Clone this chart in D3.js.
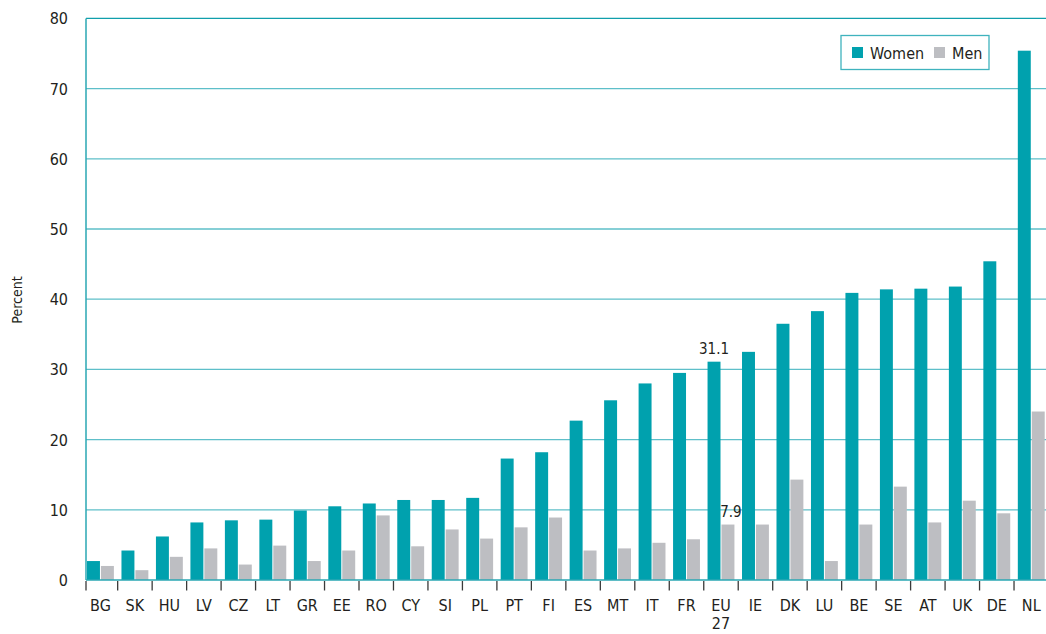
<!DOCTYPE html>
<html>
<head>
<meta charset="utf-8">
<script src="https://cdn.jsdelivr.net/npm/d3@7"></script>
<style>
  body { margin: 0; background: #fff; }
  svg { display: block; font-family: "Liberation Sans Narrow", "DejaVu Sans Condensed", "Roboto Condensed", sans-serif; }
  .tick-label { font-size: 16px; fill: #231f20; }
</style>
</head>
<body>
<svg id="chart" width="1046" height="634"></svg>
<script>
// Data
const countries = ['BG','SK','HU','LV','CZ','LT','GR','EE','RO','CY','SI','PL','PT','FI','ES','MT','IT','FR','EU 27','IE','DK','LU','BE','SE','AT','UK','DE','NL'];
const women = [2.7, 4.2, 6.2, 8.2, 8.5, 8.6, 9.9, 10.5, 10.9, 11.4, 11.4, 11.7, 17.3, 18.2, 22.7, 25.6, 28.0, 29.5, 31.1, 32.5, 36.5, 38.3, 40.9, 41.4, 41.5, 41.8, 45.4, 75.4];
const men = [2.0, 1.4, 3.3, 4.5, 2.2, 4.9, 2.7, 4.2, 9.2, 4.8, 7.2, 5.9, 7.5, 8.9, 4.2, 4.5, 5.3, 5.8, 7.9, 7.9, 14.3, 2.7, 7.9, 13.3, 8.2, 11.3, 9.5, 24.0];
const seriesNames = ['Women', 'Men'];
const yTicks = [0, 10, 20, 30, 40, 50, 60, 70, 80];
const annotations = [{ country: 'EU 27', series: 'Women', text: '31.1' }, { country: 'EU 27', series: 'Men', text: '7.9' }];

const colors = { Women: '#00a1ae', Men: '#bdbec2' };

const svg = d3.select('#chart');

// Scales
const x = d3.scaleBand()
    .domain(countries)
    .range([83.2, 1048.5])
    .paddingInner(0.22)
    .paddingOuter(0.11);

const x1 = d3.scaleBand()
    .domain(seriesNames)
    .range([0, x.bandwidth()])
    .paddingInner(0.07);

const y = d3.scaleLinear()
    .domain([0, 80])
    .range([580, 18.4]);

const step = x.step();
const bandLeft = d => x(d) - step * 0.11;

// Gridlines
svg.append('g')
    .selectAll('line')
    .data(yTicks.filter(t => t > 0))
    .enter()
    .append('line')
    .attr('x1', 86)
    .attr('x2', 1046)
    .attr('y1', d => y(d))
    .attr('y2', d => y(d))
    .attr('stroke', d => d === 80 ? '#109fac' : '#5ebfc9')
    .attr('stroke-width', 1.3);

// Y axis labels
svg.append('g')
    .selectAll('text')
    .data(yTicks)
    .enter()
    .append('text')
    .attr('class', 'tick-label')
    .attr('x', 68)
    .attr('y', d => y(d) + 6)
    .attr('text-anchor', 'end')
    .text(d => d);

// Y axis title
svg.append('text')
    .attr('transform', 'translate(22,300) rotate(-90)')
    .attr('text-anchor', 'middle')
    .attr('font-size', 14)
    .attr('fill', '#231f20')
    .text('Percent');

// Bars
const rows = countries.map((c, i) => ({ country: c, Women: women[i], Men: men[i] }));

const groups = svg.append('g')
    .selectAll('g')
    .data(rows)
    .enter()
    .append('g')
    .attr('transform', d => `translate(${x(d.country)},0)`);

groups.selectAll('rect')
    .data(d => seriesNames.map(s => ({ series: s, value: d[s] })))
    .enter()
    .append('rect')
    .attr('x', d => x1(d.series))
    .attr('width', x1.bandwidth())
    .attr('y', d => y(d.value))
    .attr('height', d => y(0) - y(d.value))
    .attr('fill', d => colors[d.series]);

// Annotations
svg.append('g')
    .selectAll('text')
    .data(annotations)
    .enter()
    .append('text')
    .attr('x', d => x(d.country) + x1(d.series) + x1.bandwidth() / 2 + (d.series === 'Men' ? 3 : 0))
    .attr('y', d => y(d.series === 'Women' ? women[countries.indexOf(d.country)] : men[countries.indexOf(d.country)]) - 8)
    .attr('text-anchor', 'middle')
    .attr('font-size', 15)
    .attr('fill', '#231f20')
    .text(d => d.text);

// Axis lines
svg.append('line')
    .attr('x1', 86).attr('x2', 86)
    .attr('y1', y(80)).attr('y2', y(0))
    .attr('stroke', '#2aa7b3')
    .attr('stroke-width', 1.5);

svg.append('line')
    .attr('x1', 86).attr('x2', 1046)
    .attr('y1', y(0)).attr('y2', y(0))
    .attr('stroke', '#2aa7b3')
    .attr('stroke-width', 1.5);

// X ticks at band boundaries
svg.append('g')
    .selectAll('line')
    .data(countries)
    .enter()
    .append('line')
    .attr('x1', d => Math.max(86, bandLeft(d)))
    .attr('x2', d => Math.max(86, bandLeft(d)))
    .attr('y1', 581)
    .attr('y2', 590.5)
    .attr('stroke', '#3a3a3a')
    .attr('stroke-width', 1.3);

// X labels
const xLabels = svg.append('g')
    .selectAll('text')
    .data(countries)
    .enter()
    .append('text')
    .attr('class', 'tick-label')
    .attr('x', d => x(d) + x.bandwidth() / 2)
    .attr('y', 611)
    .attr('text-anchor', 'middle');

xLabels.each(function(d) {
    const parts = d.split(' ');
    const t = d3.select(this);
    parts.forEach((p, i) => {
        t.append('tspan')
            .attr('x', x(d) + x.bandwidth() / 2)
            .attr('dy', i === 0 ? 0 : 18)
            .text(p);
    });
});

// Legend
const legend = svg.append('g').attr('transform', 'translate(841,35.5)');
legend.append('rect')
    .attr('width', 148)
    .attr('height', 34)
    .attr('fill', '#fff')
    .attr('stroke', '#3fb3be')
    .attr('stroke-width', 1.3);

const legendX = { Women: 11, Men: 93 };
seriesNames.forEach(s => {
    legend.append('rect')
        .attr('x', legendX[s])
        .attr('y', 11.5)
        .attr('width', 11)
        .attr('height', 11)
        .attr('fill', colors[s]);
    legend.append('text')
        .attr('class', 'tick-label')
        .attr('x', legendX[s] + 18)
        .attr('y', 23)
        .text(s);
});
</script>
</body>
</html>
